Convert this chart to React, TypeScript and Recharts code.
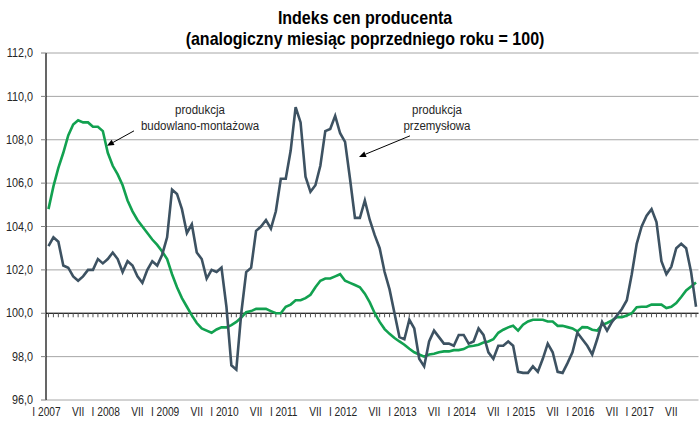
import {
  CartesianGrid,
  Line,
  LineChart,
  ReferenceLine,
  XAxis,
  YAxis,
} from "recharts";

// monthly y/y indices, I 2007 .. XII 2017
const przemyslowa = [
  103.1, 103.5, 103.3, 102.2, 102.1, 101.7, 101.5, 101.7, 102.0, 102.0, 102.5, 102.3,
  102.5, 102.8, 102.5, 101.9, 102.4, 102.2, 101.7, 101.4, 102.0, 102.4, 102.2, 102.7,
  103.5, 105.7, 105.5, 104.8, 103.7, 104.1, 102.8, 102.5, 101.6, 102.0, 101.9, 102.1,
  100.3, 97.6, 97.4, 100.0, 101.9, 102.1, 103.8, 104.0, 104.3, 103.9, 104.7, 106.2,
  106.2, 107.5, 109.5, 108.8, 106.3, 105.6, 105.9, 106.8, 108.4, 108.5, 109.1, 108.3,
  107.9, 106.2, 104.4, 104.4, 105.2, 104.3, 103.6, 103.0, 101.9, 101.1, 100.0, 98.9,
  98.8, 99.7, 99.3, 97.9, 97.55, 98.7, 99.2, 98.9, 98.6, 98.6, 98.5, 99.0,
  99.0, 98.6, 98.7, 99.3, 99.0, 98.2, 97.9, 98.5, 98.5, 98.7, 98.5, 97.3,
  97.25, 97.25, 97.55, 97.3, 97.9, 98.6, 98.2, 97.3, 97.25, 97.7, 98.2, 99.1,
  98.8, 98.5, 98.1, 98.8, 99.6, 99.2, 99.6, 99.9, 100.2, 100.6, 101.8, 103.2,
  104.0, 104.5, 104.8, 104.2, 102.4, 101.8, 102.15, 103.0, 103.2, 103.0, 101.9, 100.3,
];

const budowlana = [
  104.8, 105.85, 106.7, 107.4, 108.2, 108.7, 108.9, 108.8, 108.8, 108.6, 108.6, 108.4,
  107.4, 106.8, 106.4, 105.9, 105.2, 104.7, 104.3, 104.0, 103.7, 103.4, 103.15, 102.85,
  102.5, 101.8, 101.2, 100.7, 100.3, 99.9, 99.55, 99.3, 99.2, 99.1, 99.25, 99.35,
  99.35, 99.45, 99.6, 99.8, 100.05, 100.1, 100.2, 100.2, 100.2, 100.1, 100.0, 100.0,
  100.3, 100.4, 100.6, 100.6, 100.7, 100.85, 101.2, 101.5, 101.6, 101.6, 101.7, 101.8,
  101.5, 101.4, 101.3, 101.2, 100.9, 100.5, 100.0, 99.6, 99.27, 99.05, 98.86, 98.7,
  98.55, 98.36, 98.2, 98.1, 98.0, 98.1, 98.13, 98.2, 98.24, 98.24, 98.3, 98.3,
  98.35, 98.47, 98.5, 98.55, 98.65, 98.7, 98.8, 99.1, 99.24, 99.35, 99.42, 99.2,
  99.47, 99.62, 99.7, 99.7, 99.7, 99.62, 99.62, 99.42, 99.42, 99.36, 99.3, 99.16,
  99.36, 99.35, 99.24, 99.2, 99.47, 99.55, 99.67, 99.82, 99.82, 99.9, 100.0, 100.28,
  100.3, 100.3, 100.4, 100.4, 100.4, 100.24, 100.3, 100.47, 100.75, 101.05, 101.23, 101.42,
];

const xTickLabels = [
  "I 2007", "VII", "I 2008", "VII", "I 2009", "VII", "I 2010", "VII",
  "I 2011", "VII", "I 2012", "VII", "I 2013", "VII", "I 2014", "VII",
  "I 2015", "VII", "I 2016", "VII", "I 2017", "VII",
];

const yTicks = [96, 98, 100, 102, 104, 106, 108, 110, 112];

const FONT = '"Liberation Sans", Arial, sans-serif';
const GREY = "#3d5262";
const GREEN = "#12a150";
const TEXT = "#262626";

const data = przemyslowa.map((p, i) => ({ i, p, b: budowlana[i] }));
const xTicks = xTickLabels.map((_, k) => k * 6);

function XTick(props: any) {
  const { x, y, payload } = props;
  const label = xTickLabels[Math.round(payload.value / 6)];
  const shift = label.startsWith("I ") ? -2 : 0;
  return (
    <text
      transform={`translate(${x + shift},${y}) scale(0.85,1)`}
      textAnchor="middle"
      dy="0.71em"
      fontSize={12}
      fontFamily={FONT}
      fill={TEXT}
    >
      {label}
    </text>
  );
}

function YTick(props: any) {
  const { x, y, payload } = props;
  return (
    <text
      transform={`translate(${x},${y}) scale(0.9,1)`}
      textAnchor="end"
      dy="0.35em"
      fontSize={12}
      fontFamily={FONT}
      fill={TEXT}
    >
      {payload.value.toFixed(1).replace(".", ",")}
    </text>
  );
}

// category axis crossing at 100, with a small tick under every month
function AxisAt100(props: any) {
  const { x1, x2, y1 } = props;
  const step = (x2 - x1) / data.length;
  return (
    <g>
      <line x1={x1} x2={x2} y1={y1} y2={y1} stroke="#000" strokeWidth={1.2} />
      {data.map((d) => {
        const tx = x1 + (d.i + 0.5) * step;
        return (
          <line key={d.i} x1={tx} x2={tx} y1={y1} y2={y1 + 4} stroke="#555" strokeWidth={1} />
        );
      })}
    </g>
  );
}

function makeArrow(lines: string[], dx: number, dy: number) {
  return (props: any) => {
    const { x1, y1, x2, y2 } = props;
    const ang = Math.atan2(y2 - y1, x2 - x1);
    const len = 7;
    const half = 3;
    const bx = x2 - len * Math.cos(ang);
    const by = y2 - len * Math.sin(ang);
    const px = -Math.sin(ang) * half;
    const py = Math.cos(ang) * half;
    return (
      <g>
        <line x1={x1} y1={y1} x2={bx} y2={by} stroke="#000" strokeWidth={1} />
        <polygon points={`${x2},${y2} ${bx + px},${by + py} ${bx - px},${by - py}`} fill="#000" />
        {lines.map((t, k) => (
          <text
            key={k}
            transform={`translate(${x1 + dx},${y1 + dy + k * 16}) scale(0.92,1)`}
            textAnchor="middle"
            fontSize={12.5}
            fontFamily={FONT}
            fill={TEXT}
          >
            {t}
          </text>
        ))}
      </g>
    );
  };
}

export default function App() {
  return (
    <div style={{ position: "absolute", left: 0, top: 0, width: 699, height: 421, background: "#fff" }}>
      <LineChart
        width={699}
        height={421}
        data={data}
        margin={{ top: 53, right: 0.5, bottom: 0, left: 0 }}
      >
        <CartesianGrid horizontal vertical={false} stroke="#a6a6a6" strokeWidth={1} />
        <XAxis
          type="number"
          dataKey="i"
          domain={[-0.5, 131.5]}
          ticks={xTicks}
          interval={0}
          axisLine={false}
          tickLine={false}
          tickSize={0}
          tickMargin={7}
          height={21}
          tick={XTick}
          allowDataOverflow
        />
        <YAxis
          domain={[96, 112]}
          ticks={yTicks}
          interval={0}
          width={46}
          axisLine={{ stroke: "#000", strokeWidth: 1.2 }}
          tickLine={{ stroke: "#808080" }}
          tickSize={5}
          tickMargin={8}
          tick={YTick}
        />
        <ReferenceLine y={100} shape={AxisAt100} />
        <Line
          type="linear"
          dataKey="b"
          stroke={GREEN}
          strokeWidth={2.6}
          dot={false}
          isAnimationActive={false}
        />
        <Line
          type="linear"
          dataKey="p"
          stroke={GREY}
          strokeWidth={2.6}
          dot={false}
          isAnimationActive={false}
        />
        <ReferenceLine
          segment={[{ x: 17.3, y: 108.41 }, { x: 11.83, y: 107.72 }]}
          shape={makeArrow(["produkcja", "budowlano-montażowa"], 66, -17)}
        />
        <ReferenceLine
          segment={[{ x: 73.13, y: 108.18 }, { x: 62.82, y: 107.21 }]}
          shape={makeArrow(["produkcja", "przemysłowa"], 27, -22)}
        />
      </LineChart>
      <svg
        width={699}
        height={50}
        style={{ position: "absolute", left: 0, top: 0, pointerEvents: "none" }}
      >
        <text
          transform="translate(365,24) scale(0.89,1)"
          textAnchor="middle"
          fontSize={18}
          fontWeight="bold"
          fontFamily={FONT}
          fill="#000"
        >
          Indeks cen producenta
        </text>
        <text
          transform="translate(365,45) scale(0.89,1)"
          textAnchor="middle"
          fontSize={18}
          fontWeight="bold"
          fontFamily={FONT}
          fill="#000"
        >
          (analogiczny miesiąc poprzedniego roku = 100)
        </text>
      </svg>
    </div>
  );
}
